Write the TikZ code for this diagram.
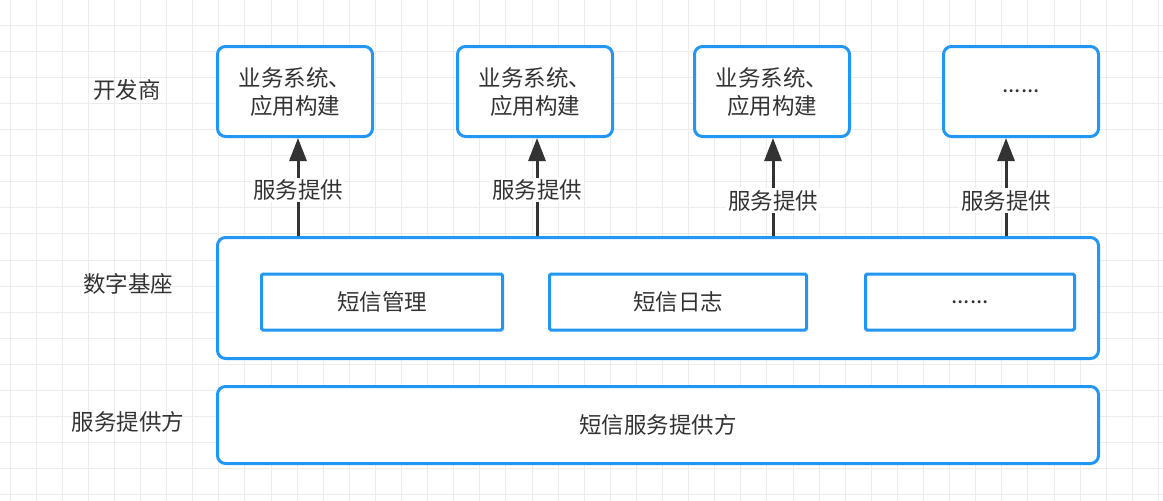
\documentclass[tikz,border=0pt]{standalone}
\usepackage{fontspec}
\setmainfont{Noto Sans CJK SC}
\usetikzlibrary{arrows.meta, positioning}

\definecolor{boxblue}{RGB}{33,150,243}
\definecolor{inkgray}{RGB}{51,51,51}
\definecolor{gridgray}{RGB}{236,236,236}

\begin{document}
\begin{tikzpicture} [
						x=1pt, y=-1pt,
						font=\fontsize{22.5}{28}\selectfont,
						text=inkgray,
						layer/.style={draw=boxblue, line width=3pt, rounded corners=8pt, fill=white},
						app/.style={layer, minimum width=155pt, minimum height=90pt, align=center},
						module/.style={draw=boxblue, line width=3pt, rounded corners=1.5pt, fill=white, minimum height=56pt},
						provide/.style={-{Triangle[length=23pt,width=17pt]}, draw=inkgray, line width=3pt},
						tag/.style={fill=white, inner sep=2pt}
					]

\useasboundingbox (0,0) rectangle (1163,501);
\fill[white] (0,0) rectangle (1163,501);
\foreach \gx in {0,...,44}
	\draw[gridgray, line width=1pt] (10+26.1*\gx,0) -- (10+26.1*\gx,501);
\foreach \gy in {0,...,19}
	\draw[gridgray, line width=1pt] (0,-1+26.1*\gy) -- (1163,-1+26.1*\gy);

% row labels
\node (dev)   at (127,90)  {开发商};
\node (base)  at (128,284) {数字基座};
\node (sp)    at (128,422) {服务提供方};

% developers
\node (app1) [app] at (295,91.5)  {业务系统、\\应用构建};
\node (app2) [app] at (535,91.5)  {业务系统、\\应用构建};
\node (app3) [app] at (772,91.5)  {业务系统、\\应用构建};
\node (app4) [app] at (1021,91.5) {......};

% platform
\node (core) [layer, minimum width=881pt, minimum height=121pt] at (658,298) {};
\node (sms)  [module, minimum width=241pt] at (382,302) {短信管理};
\node (log)  [module, minimum width=257pt] at (678,302) {短信日志};
\node (more) [module, minimum width=209pt] at (970,302) {......};

% provider
\node (prov) [layer, minimum width=881pt, minimum height=77pt] at (658,425) {短信服务提供方};

\path
	([xshift=3pt]app1.south |- core.north) edge [provide] node [tag, pos=0.47] {服务提供} ([xshift=3pt]app1.south)
	([xshift=2pt]app2.south |- core.north) edge [provide] node [tag, pos=0.47] {服务提供} ([xshift=2pt]app2.south)
	([xshift=1pt]app3.south |- core.north) edge [provide] node [tag, pos=0.36] {服务提供} ([xshift=1pt]app3.south)
	([xshift=-15pt]app4.south |- core.north) edge [provide] node [tag, pos=0.36] {服务提供} ([xshift=-15pt]app4.south);
\end{tikzpicture}
\end{document}
